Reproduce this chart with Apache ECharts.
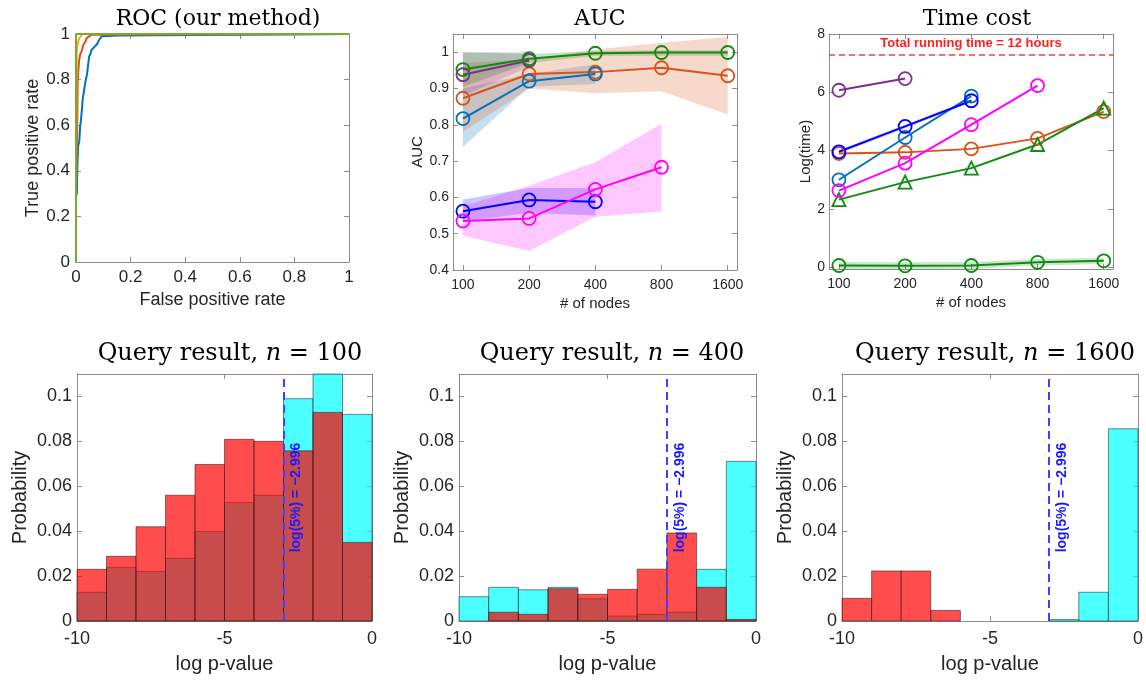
<!DOCTYPE html>
<html><head><meta charset="utf-8">
<script src="https://cdn.jsdelivr.net/npm/echarts@6/dist/echarts.min.js"></script>
<style>html,body{margin:0;padding:0;background:#fff}#c{width:1146px;height:681px}</style>
</head><body><div id="c"></div>
<script>
// ================= DATA =================
// ROC curves: [false positive rate, true positive rate]
const rocBlue = [[0,0],[0,0.29],[0.003,0.3],[0.005,0.42],[0.008,0.51],[0.012,0.53],[0.015,0.59],[0.018,0.62],[0.021,0.66],[0.025,0.72],[0.028,0.74],[0.033,0.78],[0.036,0.8],[0.04,0.82],[0.045,0.87],[0.048,0.9],[0.052,0.91],[0.057,0.93],[0.065,0.94],[0.07,0.945],[0.077,0.955],[0.082,0.968],[0.088,0.979],[0.094,0.99],[0.155,0.993],[0.155,1],[1,1]];
const rocOrange = [[0,0],[0,0.3],[0.004,0.55],[0.005,0.66],[0.006,0.78],[0.0085,0.84],[0.011,0.88],[0.015,0.91],[0.021,0.925],[0.027,0.953],[0.035,0.968],[0.039,0.982],[0.045,0.99],[0.057,0.997],[0.06,1],[1,1]];
const rocYellow = [[0,0],[0,0.3],[0.001,0.6],[0.0025,0.92],[0.005,0.946],[0.0085,0.968],[0.012,0.982],[0.018,0.99],[0.024,1],[1,1]];
const rocGreen = [[0,0],[0,1],[1,1]];
const rocTicks = [0,0.2,0.4,0.6,0.8,1];

// # of nodes
const nodes = [100,200,400,800,1600];

// AUC panel (mean, lower, upper)
const aucBlue = [0.817,0.92,0.94];
const aucBlueLo = [0.739,0.905,0.912];
const aucBlueHi = [0.90,0.94,0.967];
const aucOrange = [0.873,0.94,0.945,0.957,0.935];
const aucOrangeLo = [0.78,0.90,0.887,0.892,0.828];
const aucOrangeHi = [0.97,0.98,1.007,1.026,1.042];
const aucPurple = [0.938,0.977];
const aucPurpleLo = [0.88,0.96];
const aucPurpleHi = [1.0,1.0];
const aucGreen = [0.952,0.982,0.997,0.999,0.999];
const aucGreenLo = [0.905,0.97,0.99,0.99,0.99];
const aucGreenHi = [1.0,0.995,1.003,1.005,1.005];
const aucDarkBlue = [0.562,0.593,0.588];
const aucDarkBlueLo = [0.534,0.557,0.55];
const aucDarkBlueHi = [0.594,0.626,0.626];
const aucMagenta = [0.535,0.542,0.622,0.683];
const aucMagentaLo = [0.494,0.452,0.547,0.561];
const aucMagentaHi = [0.575,0.632,0.697,0.803];
const aucTicks = [0.4,0.5,0.6,0.7,0.8,0.9,1];

// Time cost panel, Log(time)
const timePurple = [6.07,6.47];
const timeBlue = [3.0,4.45,5.87];
const timeDarkBlue = [3.96,4.83,5.71];
const timeDarkBlueLo = [3.9,4.77,5.66];
const timeDarkBlueHi = [4.02,4.89,5.76];
const timeMagenta = [2.63,3.57,4.89,6.23];
const timeOrange = [3.9,3.94,4.06,4.42,5.34];
const timeGreenTri = [2.32,2.92,3.4,4.21,5.46];
const timeGreenCirc = [0.06,0.05,0.06,0.17,0.22];
const timeGreenCircLo = [-0.06,-0.07,-0.06,0.06,0.11];
const timeGreenCircHi = [0.18,0.17,0.18,0.28,0.33];
const timeLimit = 7.3;
const timeTicks = [0,2,4,6,8];

// Histograms (bin edges of log p-value, probabilities)
const binEdges = [-10,-9,-8,-7,-6,-5,-4,-3,-2,-1,0];
const hist100Cyan = [0.0128,0.0239,0.0221,0.0279,0.0399,0.0528,0.056,0.099,0.113,0.092];
const hist100Red  = [0.023,0.0288,0.042,0.056,0.0697,0.0809,0.080,0.0758,0.0929,0.035];
const hist400Cyan = [0.0108,0.015,0.0139,0.015,0.0099,0.0022,0.003,0.0039,0.023,0.0711];
const hist400Red  = [0,0.0039,0.003,0.0144,0.0119,0.0141,0.0231,0.0392,0.015,0.0007];
const hist1600Cyan = [0,0,0,0,0,0,0,0.0007,0.0128,0.0856];
const hist1600Red  = [0.0101,0.0223,0.0223,0.0047,0,0,0,0,0,0];
const threshold = -2.996;
const histXTicks = [-10,-5,0];
const histYTicks = [0,0.02,0.04,0.06,0.08,0.1];

// ================= CHART =================
const AXC = '#8c8c8c', TXT = '#262626', SANS = 'Liberation Sans', SERIF = 'DejaVu Serif';
const option = {animation:false, backgroundColor:'#fff', title:[], grid:[], xAxis:[], yAxis:[], series:[]};

function axis(g, pos, prim, c) {
  return {type:'value', gridIndex:g, position:pos, min:c.min, max:c.max,
    axisLine:{show:true,onZero:false,lineStyle:{color:AXC,width:1}},
    axisTick:{show:true,inside:true,length:5,customValues:c.ticks,lineStyle:{color:AXC}},
    axisLabel:{show:prim,customValues:c.ticks,formatter:c.fmt,color:TXT,fontFamily:SANS,fontSize:c.fs,margin:c.margin},
    splitLine:{show:false},
    name: prim ? c.name : '', nameLocation:'middle', nameGap:c.gap,
    nameTextStyle:{color:TXT,fontFamily:SANS,fontSize:c.nfs}};
}
function addPanel(grid, xc, yc) {
  const g = option.grid.length;
  option.grid.push(grid);
  option.xAxis.push(axis(g,'bottom',true,xc), axis(g,'top',false,xc));
  option.yAxis.push(axis(g,'left',true,yc), axis(g,'right',false,yc));
  return g;
}
function addTitle(text, x, y, fs) {
  option.title.push({text, left:x, top:y, textAlign:'center',
    textStyle:{fontFamily:SERIF, fontSize:fs, fontWeight:'normal', color:'#000',
      rich:{it:{fontFamily:SERIF, fontStyle:'italic', fontSize:fs, color:'#000'}}}});
}
function lineS(g, xs, ys, color, sym, size, extra) {
  return Object.assign({type:'line', xAxisIndex:2*g, yAxisIndex:2*g,
    data: ys.map((v,i)=>[xs[i], v]), symbol: sym, symbolSize: size, showSymbol: sym !== 'none',
    lineStyle:{color, width:2}, itemStyle:{color:'rgba(255,255,255,0)', borderColor:color, borderWidth:1.8},
    emphasis:{disabled:true}, silent:true, z:3}, extra || {});
}
function bandS(g, xs, lo, hi, fill) {
  return {type:'custom', xAxisIndex:2*g, yAxisIndex:2*g, silent:true, z:1,
    data:[[xs[0], lo[0]]],
    renderItem:(params, api) => {
      const pts = [];
      for (let i=0;i<lo.length;i++) pts.push(api.coord([xs[i], hi[i]]));
      for (let i=lo.length-1;i>=0;i--) pts.push(api.coord([xs[i], lo[i]]));
      return {type:'polygon', shape:{points:pts}, style:{fill}};
    }};
}
function histS(g, vals, fill, extra) {
  return Object.assign({type:'custom', xAxisIndex:2*g, yAxisIndex:2*g, silent:true,
    data: vals.map((v,i)=>[binEdges[i], binEdges[i+1], v]),
    encode:{x:[0,1], y:2},
    renderItem:(params, api) => {
      if (api.value(2) <= 0) return null;
      const p0 = api.coord([api.value(0), 0]);
      const p1 = api.coord([api.value(1), api.value(2)]);
      const cs = params.coordSys;
      const rect = echarts.graphic.clipRectByRect(
        {x:p0[0], y:p1[1], width:p1[0]-p0[0], height:p0[1]-p1[1]},
        {x:cs.x, y:cs.y, width:cs.width, height:cs.height});
      if (!rect) return null;
      return {type:'rect', shape:rect, style:{fill, stroke:'rgba(38,38,38,0.7)', lineWidth:0.8}};
    }}, extra || {});
}

const fmt1 = v => String(+v.toFixed(1));
const fmt2 = v => String(+v.toFixed(2));
const nodeX = nodes.map(n => Math.log2(n/100));
const nodeCfg = {min:-0.15, max:4.14, ticks:nodeX, fmt:v => String(Math.round(100*Math.pow(2,v))), fs:14, margin:8, name:'# of nodes', gap:26, nfs:15};

// Panel 1: ROC
const g1 = addPanel({left:76, top:34, width:273, height:228},
  {min:0, max:1, ticks:rocTicks, fmt:fmt1, fs:17, margin:7, name:'False positive rate', gap:29, nfs:18},
  {min:0, max:1, ticks:rocTicks, fmt:fmt1, fs:17, margin:6, name:'True positive rate', gap:34, nfs:18});
addTitle('ROC (our method)', 213, 3, 22);
option.series.push(
  lineS(g1, rocBlue.map(p=>p[0]), rocBlue.map(p=>p[1]), '#0072BD', 'none', 0, {clip:false}),
  lineS(g1, rocOrange.map(p=>p[0]), rocOrange.map(p=>p[1]), '#D95319', 'none', 0, {clip:false}),
  lineS(g1, rocYellow.map(p=>p[0]), rocYellow.map(p=>p[1]), '#EDB120', 'none', 0, {clip:false}),
  lineS(g1, rocGreen.map(p=>p[0]), rocGreen.map(p=>p[1]), '#77AC30', 'none', 0, {clip:false})
);

// Panel 2: AUC
const g2 = addPanel({left:453, top:34, width:284, height:236}, nodeCfg,
  {min:0.4, max:1.05, ticks:aucTicks, fmt:fmt1, fs:14, margin:4, name:'AUC', gap:28, nfs:15});
addTitle('AUC', 595, 3, 22);
option.series.push(
  bandS(g2, nodeX, aucBlueLo, aucBlueHi, 'rgba(0,114,189,0.22)'),
  bandS(g2, nodeX, aucOrangeLo, aucOrangeHi, 'rgba(217,83,25,0.22)'),
  bandS(g2, nodeX, aucPurpleLo, aucPurpleHi, 'rgba(126,47,142,0.22)'),
  bandS(g2, nodeX, aucGreenLo, aucGreenHi, 'rgba(0,128,0,0.22)'),
  bandS(g2, nodeX, aucDarkBlueLo, aucDarkBlueHi, 'rgba(0,0,255,0.22)'),
  bandS(g2, nodeX, aucMagentaLo, aucMagentaHi, 'rgba(255,0,255,0.22)'),
  lineS(g2, nodeX, aucOrange, '#D95319', 'circle', 13),
  lineS(g2, nodeX, aucBlue, '#0072BD', 'circle', 13),
  lineS(g2, nodeX, aucPurple, '#7E2F8E', 'circle', 13),
  lineS(g2, nodeX, aucGreen, '#108A10', 'circle', 13),
  lineS(g2, nodeX, aucDarkBlue, '#0000FF', 'circle', 13),
  lineS(g2, nodeX, aucMagenta, '#FF00FF', 'circle', 13)
);

// Panel 3: Time cost
const g3 = addPanel({left:829, top:34, width:284, height:235}, nodeCfg,
  {min:-0.06, max:8, ticks:timeTicks, fmt:v=>String(v), fs:14, margin:4, name:'Log(time)', gap:15, nfs:15});
addTitle('Time cost', 972, 3, 22);
option.series.push(
  bandS(g3, nodeX, timeGreenCircLo, timeGreenCircHi, 'rgba(0,128,0,0.2)'),
  bandS(g3, nodeX, timeDarkBlueLo, timeDarkBlueHi, 'rgba(0,0,255,0.2)'),
  lineS(g3, nodeX, timePurple, '#7E2F8E', 'circle', 13, {
    markLine:{silent:true, symbol:['none','none'], animation:false,
      lineStyle:{color:'#ff3b3b', type:[6,4], width:1.5},
      label:{show:true, position:'insideMiddleTop', formatter:'Total running time = 12 hours', color:'#ff1f1f',
        fontWeight:'bold', fontSize:13, fontFamily:SANS, distance:4},
      data:[{yAxis: timeLimit}]}}),
  lineS(g3, nodeX, timeOrange, '#D95319', 'circle', 13),
  lineS(g3, nodeX, timeBlue, '#0072BD', 'circle', 13),
  lineS(g3, nodeX, timeGreenTri, '#108A10', 'triangle', 13),
  lineS(g3, nodeX, timeMagenta, '#FF00FF', 'circle', 13),
  lineS(g3, nodeX, timeDarkBlue, '#0000FF', 'circle', 13),
  lineS(g3, nodeX, timeGreenCirc, '#108A10', 'circle', 13)
);

// Histograms
const histX = {min:-10, max:0, ticks:histXTicks, fmt:v=>String(v), fs:18, margin:9, name:'log p-value', gap:33, nfs:20};
const histY = {min:0, max:0.11, ticks:histYTicks, fmt:fmt2, fs:18, margin:5, name:'Probability', gap:47, nfs:20};
const threshLine = {silent:true, symbol:['none','none'], animation:false,
  lineStyle:{color:'#4040ff', type:[8,5], width:2},
  label:{show:true, position:'insideMiddleBottom', formatter:'log(5%) = \u22122.996', color:'#1a1aff',
    fontWeight:'bold', fontSize:14, fontFamily:SANS, distance:6},
  data:[{xAxis: threshold}]};
const histPanels = [
  [{left:77, top:374, width:295, height:247}, hist100Cyan, hist100Red, 'Query result, {it|n} = 100', 225],
  [{left:459, top:374, width:297, height:247}, hist400Cyan, hist400Red, 'Query result, {it|n} = 400', 607],
  [{left:842, top:374, width:296, height:247}, hist1600Cyan, hist1600Red, 'Query result, {it|n} = 1600', 990]
];
histPanels.forEach(([grid, cyan, red, title, tx]) => {
  const g = addPanel(grid, histX, histY);
  addTitle(title, tx, 337, 24);
  option.series.push(
    histS(g, cyan, 'rgba(0,255,255,0.7)'),
    histS(g, red, 'rgba(255,0,0,0.7)', {markLine: threshLine})
  );
});

const chart = echarts.init(document.getElementById('c'), null, {renderer:'canvas'});
chart.setOption(option);
</script></body></html>
